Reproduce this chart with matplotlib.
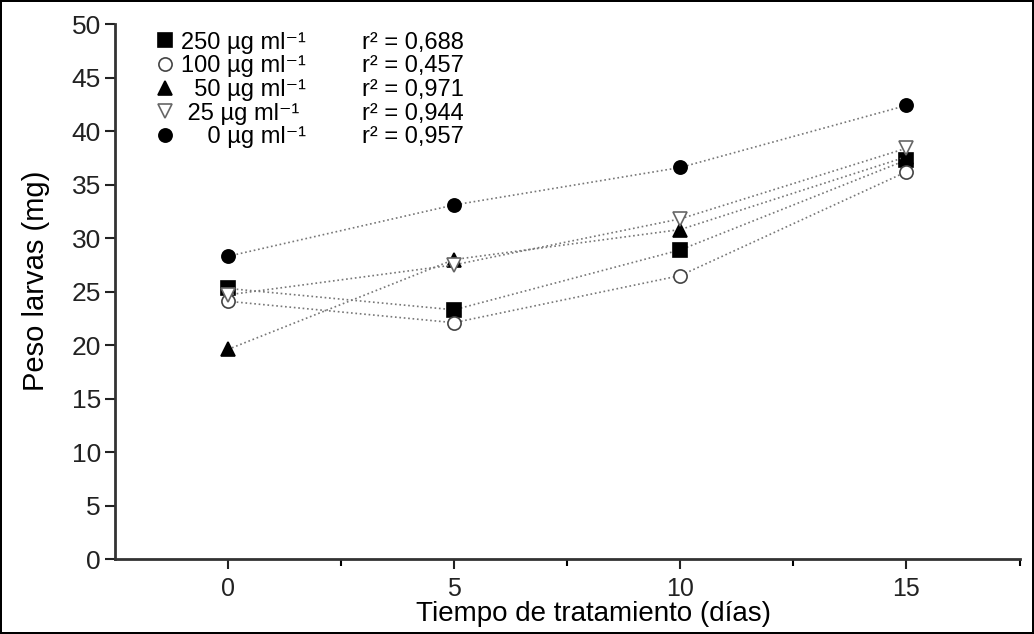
import numpy as np
import matplotlib.pyplot as plt
from matplotlib.lines import Line2D

plt.rcParams['font.family'] = ['Liberation Sans', 'DejaVu Sans']

# Data
dias = [0, 5, 10, 15]
conc_labels = ['250 µg ml⁻¹', '100 µg ml⁻¹', '  50 µg ml⁻¹',
               ' 25 µg ml⁻¹', '    0 µg ml⁻¹']
r2_labels = ['0,688', '0,457', '0,971', '0,944', '0,957']
peso_250 = [25.3, 23.3, 28.9, 37.3]
peso_100 = [24.1, 22.1, 26.5, 36.2]
peso_50 = [19.6, 28.0, 30.8, 37.6]
peso_25 = [24.7, 27.5, 31.8, 38.4]
peso_0 = [28.3, 33.1, 36.6, 42.4]

series = [peso_250, peso_100, peso_50, peso_25, peso_0]
markers = ['s', 'o', '^', 'v', 'o']
fills = ['black', 'white', 'black', 'white', 'black']
edges = ['black', '#444444', 'black', '#666666', 'black']

fig = plt.figure(figsize=(10.34, 6.34), dpi=100)
fig.patch.set_edgecolor('black')
fig.patch.set_linewidth(1.5)
ax = fig.add_axes([0.111, 0.118, 0.875, 0.844])

handles = []
for vals, m, fc, ec in zip(series, markers, fills, edges):
    ax.plot(dias, vals, linestyle=':', color='#777777', linewidth=1.2,
            marker=m, markersize=9.5, markerfacecolor=fc, markeredgecolor=ec,
            markeredgewidth=1.2, zorder=3)
    handles.append(Line2D([], [], linestyle='none', marker=m, markersize=9.5,
                          markerfacecolor=fc, markeredgecolor=ec,
                          markeredgewidth=1.2))

leg = ax.legend(handles, conc_labels, loc='upper left', frameon=False,
                fontsize=17, handlelength=0.6, handletextpad=0.35,
                labelspacing=0.07, borderaxespad=0.0, borderpad=0.0,
                bbox_to_anchor=(0.048, 0.986))

ax.set_xlim(-2.5, 17.5)
ax.set_ylim(0, 50)
ax.set_xticks([0, 5, 10, 15])
ax.set_xticks([2.5, 7.5, 12.5, 17.5], minor=True)
ax.set_yticks(np.arange(0, 51, 5))
ax.tick_params(axis='both', direction='out', length=7, width=1.5,
               labelsize=18, colors='#222222')
ax.tick_params(axis='x', which='minor', direction='out', length=5, width=1.5)
ax.tick_params(axis='x', pad=6)
ax.tick_params(axis='y', pad=3, labelsize=19)

for s in ['top', 'right']:
    ax.spines[s].set_visible(False)
for s in ['left', 'bottom']:
    ax.spines[s].set_linewidth(2)
    ax.spines[s].set_color('#333333')

ax.set_xlabel('Tiempo de tratamiento (días)', fontsize=20)
ax.xaxis.set_label_coords(0.529, -0.078)
ax.set_ylabel('Peso larvas (mg)', fontsize=21)
ax.yaxis.set_label_coords(-0.072, 0.52)

# r2 column lined up with the legend rows
fig.canvas.draw()
for t, r in zip(leg.get_texts(), r2_labels):
    bb = t.get_window_extent()
    yc = ax.transAxes.inverted().transform((0, (bb.y0 + bb.y1) / 2))[1]
    ax.text(0.273, yc, 'r² = ' + r, transform=ax.transAxes,
            fontsize=17, va='center', ha='left')

fig.savefig('out.png', dpi=100, edgecolor=fig.get_edgecolor())
